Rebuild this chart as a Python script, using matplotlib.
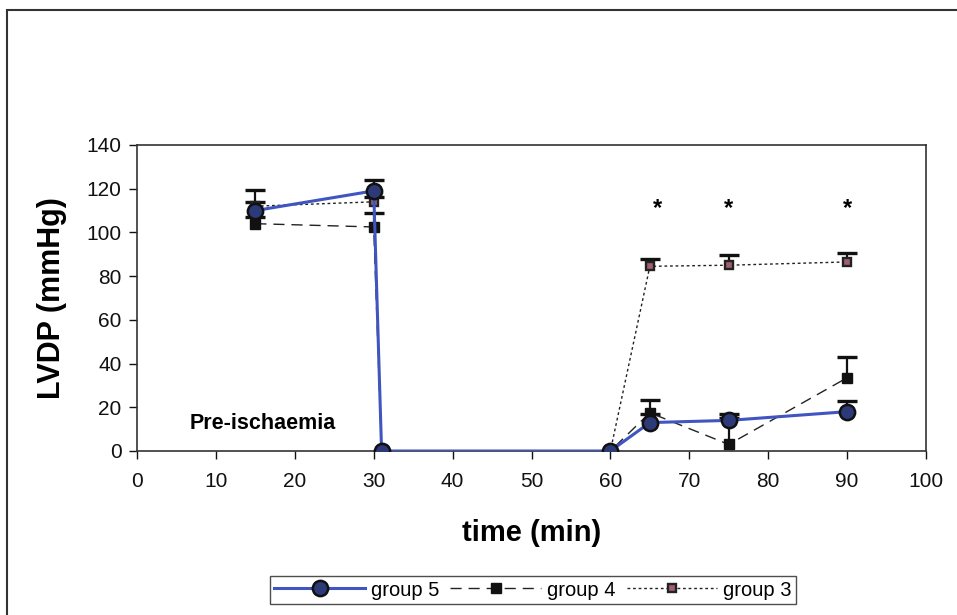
import numpy as np
import matplotlib
matplotlib.use("Agg")
import matplotlib.pyplot as plt
from matplotlib.lines import Line2D
from matplotlib.patches import Rectangle

# ---- data ----
time = [15, 30, 31, 60, 65, 75, 90]
g5 = [110, 119, 0, 0, 13, 14, 18]
g5_err = [9.5, 5, 0, 0, 4, 3, 5]
g4 = [104, 102.5, 0, 0, 17.5, 3, 33.5]
g4_err = [3, 6.5, 0, 0, 6, 12, 9.5]
g3 = [112, 114, 0, 0, 84.5, 85, 86.5]
g3_err = [2, 2, 0, 0, 3.5, 4.5, 4]
star_x = [66, 75, 90]
star_y = [111, 111, 111]
xticks = list(range(0, 101, 10))
yticks = list(range(0, 141, 20))
labels = ["group 5", "group 4", "group 3"]

plt.rcParams['font.family'] = ['Liberation Sans', 'DejaVu Sans']

fig = plt.figure(figsize=(9.57, 6.15), dpi=100)
ax = fig.add_axes([137/957, 1-451/615, (926-137)/957, (451-145)/615])

blue = '#4055c0'
navy = '#2c3a78'

def errs(x, y, e, color, lw):
    idx = [i for i in range(len(x)) if e[i] > 0]
    xs = [x[i] for i in idx]
    ys = [y[i] for i in idx]
    es = [e[i] for i in idx]
    tops = [ys[k] + es[k] for k in range(len(ys))]
    ax.vlines(xs, ys, tops, colors=color, linewidth=lw, zorder=2)
    ax.plot(xs, tops, linestyle='none', marker='_', markersize=14,
            markeredgewidth=2.4, color=color, zorder=2)

# group 3
errs(time, g3, g3_err, '#111111', 1.6)
ax.plot(time, g3, linestyle=(0, (2, 2)), color='#222222', linewidth=1.0,
        marker='s', markersize=6, markerfacecolor='#a06070',
        markeredgecolor='#222222', markeredgewidth=1.7, zorder=3)
# group 4
errs(time, g4, g4_err, '#111111', 1.6)
ax.plot(time, g4, linestyle=(0, (8, 5)), color='#222222', linewidth=1.0,
        marker='s', markersize=7, markerfacecolor='#111111',
        markeredgecolor='#111111', zorder=4)
# group 5
errs(time, g5, g5_err, '#111111', 1.6)
ax.plot(time, g5, linestyle='-', color=blue, linewidth=2.2,
        marker='o', markersize=11, markerfacecolor=navy,
        markeredgecolor='#111111', markeredgewidth=1.8, zorder=5)

for sx, sy in zip(star_x, star_y):
    ax.text(sx, sy, '*', ha='center', va='center', fontsize=17, fontweight='bold')

ax.text(6.7, 12.8, 'Pre-ischaemia', ha='left', va='center', fontsize=15.5, fontweight='bold')

ax.set_xlim(0, 100)
ax.set_ylim(0, 140)
ax.set_xticks(xticks)
ax.set_yticks(yticks)
ax.tick_params(axis='both', direction='out', length=6, width=1, labelsize=15, colors='#111111')
ax.tick_params(axis='x', pad=9)
ax.tick_params(axis='y', pad=5)
for s in ax.spines.values():
    s.set_color('#333333')
    s.set_linewidth(1.2)

ax.set_xlabel('time (min)', fontsize=21, fontweight='bold', labelpad=20)
ax.set_ylabel('LVDP (mmHg)', fontsize=22, fontweight='bold', labelpad=14)

handles = [
    Line2D([], [], linestyle='-', color=blue, linewidth=2.2, marker='o', markersize=11,
           markerfacecolor=navy, markeredgecolor='#111111', markeredgewidth=1.8),
    Line2D([], [], linestyle=(0, (8, 5)), color='#222222', linewidth=1.0, marker='s',
           markersize=7, markerfacecolor='#111111', markeredgecolor='#111111'),
    Line2D([], [], linestyle=(0, (2, 2)), color='#222222', linewidth=1.0, marker='s',
           markersize=6, markerfacecolor='#a06070', markeredgecolor='#222222',
           markeredgewidth=1.7),
]
leg = fig.legend(handles, labels, loc='center', bbox_to_anchor=(533/957, 1-590/615),
                 ncol=3, fontsize=14.5, handlelength=4.5, frameon=True, fancybox=False,
                 edgecolor='#222222', columnspacing=0.55, handletextpad=0.3,
                 borderpad=0.2, borderaxespad=0)
leg.get_frame().set_linewidth(1.0)

fig.patches.append(Rectangle((7/957, -0.05), 1.2, 1.05 - 10/615,
                             transform=fig.transFigure, fill=False,
                             edgecolor='#333333', linewidth=1.5))

fig.savefig('out.png', dpi=100)
